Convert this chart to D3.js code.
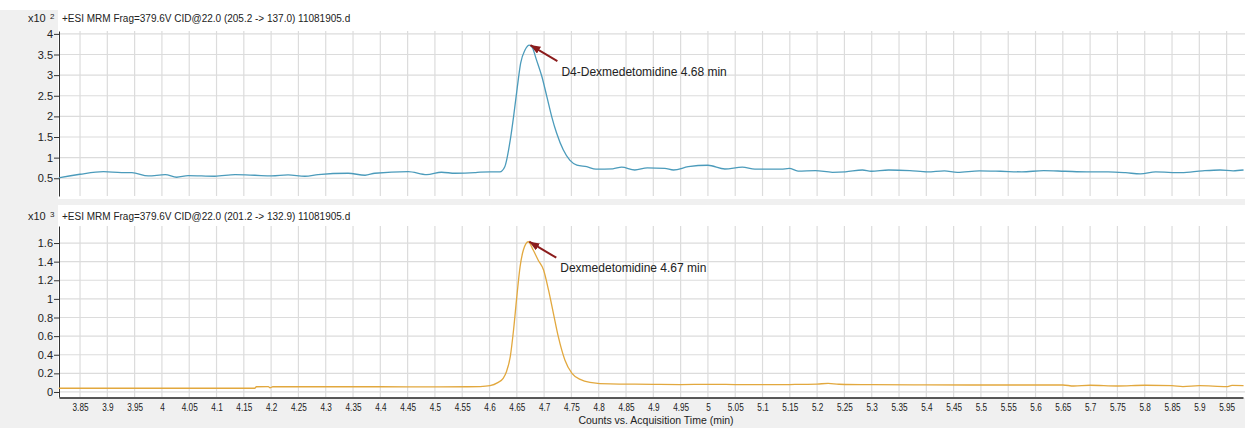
<!doctype html>
<html>
<head>
<script src="https://d3js.org/d3.v7.min.js"></script>
<style>
  body { margin: 0; background: #fff; }
  text { font-family: "Liberation Sans", Arial, sans-serif; fill: #222; }
</style>
</head>
<body>
<svg width="1245" height="428"></svg>
<script>
// D4-Dexmedetomidine trace, counts x10^2
var d4Times = [3.811, 3.813, 3.85, 3.893, 3.926, 3.945, 3.975, 4.006, 4.027, 4.048, 4.097, 4.134, 4.17, 4.201,
  4.231, 4.262, 4.286, 4.341, 4.372, 4.39, 4.451, 4.485, 4.512, 4.537, 4.573, 4.583, 4.619, 4.628, 4.638,
  4.644, 4.651, 4.657, 4.665, 4.673, 4.679, 4.686, 4.696, 4.705, 4.714, 4.723, 4.735, 4.747, 4.76, 4.778,
  4.795, 4.826, 4.842, 4.866, 4.889, 4.921, 4.937, 4.964, 5.0, 5.031, 5.063, 5.086, 5.134, 5.149, 5.165,
  5.197, 5.228, 5.252, 5.283, 5.299, 5.331, 5.37, 5.402, 5.433, 5.457, 5.497, 5.536, 5.575, 5.615, 5.654,
  5.694, 5.733, 5.765, 5.792, 5.82, 5.867, 5.906, 5.938, 5.962, 5.981];
var d4Counts = [0.51, 0.515, 0.597, 0.66, 0.636, 0.636, 0.556, 0.587, 0.524, 0.563, 0.549, 0.587, 0.573, 0.556,
  0.58, 0.549, 0.587, 0.621, 0.573, 0.621, 0.66, 0.587, 0.646, 0.621, 0.636, 0.65, 0.655, 0.78, 1.43,
  1.99, 2.72, 3.29, 3.61, 3.73, 3.65, 3.37, 2.96, 2.48, 1.99, 1.59, 1.19, 0.94, 0.82, 0.78,
  0.72, 0.73, 0.77, 0.70, 0.75, 0.74, 0.70, 0.78, 0.815, 0.725, 0.77, 0.72, 0.72, 0.74, 0.675,
  0.685, 0.645, 0.655, 0.70, 0.67, 0.70, 0.685, 0.655, 0.68, 0.645, 0.68, 0.67, 0.655, 0.685, 0.67,
  0.655, 0.655, 0.635, 0.605, 0.655, 0.635, 0.68, 0.70, 0.68, 0.70];

// Dexmedetomidine trace, counts x10^3
var dexTimes = [3.811, 4.17, 4.173, 4.195, 4.198, 4.203, 4.3, 4.4, 4.5, 4.56, 4.583, 4.601, 4.615, 4.625,
  4.631, 4.638, 4.644, 4.65, 4.656, 4.662, 4.671, 4.68, 4.689, 4.699, 4.708, 4.717, 4.726, 4.738, 4.751,
  4.766, 4.784, 4.821, 4.85, 4.9, 4.95, 5.0, 5.05, 5.1, 5.15, 5.2, 5.22, 5.24, 5.3, 5.4, 5.5, 5.6, 5.65,
  5.67, 5.7, 5.75, 5.8, 5.85, 5.87, 5.9, 5.95, 5.96, 5.981];
var dexCounts = [0.04, 0.04, 0.056, 0.057, 0.045, 0.056, 0.056, 0.056, 0.055, 0.056, 0.058, 0.068, 0.1, 0.147,
  0.218, 0.379, 0.666, 1.024, 1.346, 1.525, 1.614, 1.525, 1.418, 1.31, 1.096, 0.845, 0.594, 0.344, 0.2,
  0.136, 0.104, 0.086, 0.085, 0.082, 0.08, 0.082, 0.08, 0.078, 0.08, 0.085, 0.092, 0.083, 0.078, 0.076, 0.075, 0.075, 0.075,
  0.064, 0.072, 0.064, 0.072, 0.068, 0.058, 0.068, 0.058, 0.07, 0.068];

var xTicks = [3.85, 3.9, 3.95, 4, 4.05, 4.1, 4.15, 4.2, 4.25, 4.3, 4.35, 4.4, 4.45, 4.5, 4.55, 4.6, 4.65, 4.7,
  4.75, 4.8, 4.85, 4.9, 4.95, 5, 5.05, 5.1, 5.15, 5.2, 5.25, 5.3, 5.35, 5.4, 5.45, 5.5, 5.55, 5.6, 5.65, 5.7,
  5.75, 5.8, 5.85, 5.9, 5.95];
var topYTicks = [0.5, 1, 1.5, 2, 2.5, 3, 3.5, 4];
var bottomYTicks = [0, 0.2, 0.4, 0.6, 0.8, 1, 1.2, 1.4, 1.6];

var svg = d3.select("svg");
var fmt = d3.format("~g");

// panel backgrounds
svg.append("rect").attr("x", 0).attr("y", 10).attr("width", 58).attr("height", 418).attr("fill", "#f0f0f0");
svg.append("rect").attr("x", 0).attr("y", 199).attr("width", 1245).attr("height", 6).attr("fill", "#f0f0f0");
svg.append("rect").attr("x", 0).attr("y", 398).attr("width", 1245).attr("height", 30).attr("fill", "#f0f0f0");

var defs = svg.append("defs");
defs.append("marker")
  .attr("id", "arrow")
  .attr("markerUnits", "userSpaceOnUse")
  .attr("markerWidth", 10).attr("markerHeight", 8)
  .attr("refX", 10).attr("refY", 4)
  .attr("orient", "auto")
  .append("path").attr("d", "M0,0 L10,4 L0,8 z").attr("fill", "#8b1c1c");

var xScale = d3.scaleLinear().domain([3.8115, 5.98]).range([59, 1243]);

function drawPanel(opts) {
  var y = d3.scaleLinear().domain(opts.domain).range([opts.bottom, opts.top]);
  var g = svg.append("g");

  // grid
  g.selectAll(".vgrid").data(xTicks).enter().append("line")
    .attr("x1", function (d) { return xScale(d); })
    .attr("x2", function (d) { return xScale(d); })
    .attr("y1", opts.top).attr("y2", opts.bottom)
    .attr("stroke", "#dcdcdc").attr("stroke-width", 1.2);
  g.selectAll(".hgrid").data(opts.yTicks).enter().append("line")
    .attr("x1", 59).attr("x2", 1245)
    .attr("y1", function (d) { return y(d); })
    .attr("y2", function (d) { return y(d); })
    .attr("stroke", "#dcdcdc").attr("stroke-width", 1.2);

  // y axis
  var ya = g.append("g")
    .attr("transform", "translate(59,0)")
    .call(d3.axisLeft(y).tickValues(opts.yTicks).tickSize(5).tickSizeOuter(0).tickPadding(1).tickFormat(fmt));
  ya.selectAll("path, line").attr("stroke", "#333");
  ya.selectAll("text").style("font-size", "11px").style("fill", "#222")
    .style("font-family", "'Liberation Sans', Arial, sans-serif");

  // trace
  var pts = opts.times.map(function (t, i) { return [t, opts.counts[i]]; });
  var line = d3.line()
    .x(function (d) { return xScale(d[0]); })
    .y(function (d) { return y(d[1]); })
    .curve(d3.curveMonotoneX);
  g.append("path")
    .datum(pts)
    .attr("d", line)
    .attr("fill", "none")
    .attr("stroke", opts.color)
    .attr("stroke-width", 1.3);

  // header
  svg.append("text").attr("x", 28).attr("y", opts.headerY).style("font-size", "11px").text("x10");
  svg.append("text").attr("x", 50).attr("y", opts.headerY - 3).style("font-size", "8px").text(opts.exp);
  svg.append("text").attr("x", 62).attr("y", opts.headerY).style("font-size", "10px").text(opts.title);

  // peak annotation
  var tipX = xScale(opts.peak[0]) + 1, tipY = y(opts.peak[1]);
  svg.append("line")
    .attr("x1", tipX + 27).attr("y1", tipY + 16)
    .attr("x2", tipX).attr("y2", tipY)
    .attr("stroke", "#8b1c1c").attr("stroke-width", 2)
    .attr("marker-end", "url(#arrow)");
  svg.append("text")
    .attr("x", tipX + 31).attr("y", tipY + 30.5)
    .style("font-size", "12px")
    .text(opts.label);

  return y;
}

drawPanel({
  top: 31, bottom: 196, domain: [0.07, 4.07], yTicks: topYTicks,
  times: d4Times, counts: d4Counts, color: "#4b9bbb",
  headerY: 22, exp: "2",
  title: "+ESI MRM Frag=379.6V CID@22.0 (205.2 -> 137.0) 11081905.d",
  peak: [4.673, 3.73], label: "D4-Dexmedetomidine 4.68 min"
});

drawPanel({
  top: 226, bottom: 397, domain: [-0.054, 1.783], yTicks: bottomYTicks,
  times: dexTimes, counts: dexCounts, color: "#e2a83e",
  headerY: 220, exp: "3",
  title: "+ESI MRM Frag=379.6V CID@22.0 (201.2 -> 132.9) 11081905.d",
  peak: [4.671, 1.614], label: "Dexmedetomidine 4.67 min"
});

// x axis (shared time scale)
var xa = svg.append("g")
  .attr("transform", "translate(0,397.5)")
  .call(d3.axisBottom(xScale).tickValues(xTicks).tickSize(0).tickSizeOuter(0).tickPadding(6).tickFormat(fmt));
xa.select(".domain").attr("stroke", "#222").attr("stroke-width", 1.6);
xa.selectAll("text").style("font-size", "10.5px").style("fill", "#222")
  .style("font-family", "'Liberation Sans', Arial, sans-serif")
  .each(function () {
    var w = this.getComputedTextLength();
    d3.select(this).attr("textLength", w * 0.78).attr("lengthAdjust", "spacingAndGlyphs");
  });

svg.append("text")
  .attr("x", 656).attr("y", 424)
  .attr("text-anchor", "middle")
  .style("font-size", "10.5px")
  .text("Counts vs. Acquisition Time (min)");
</script>
</body>
</html>
